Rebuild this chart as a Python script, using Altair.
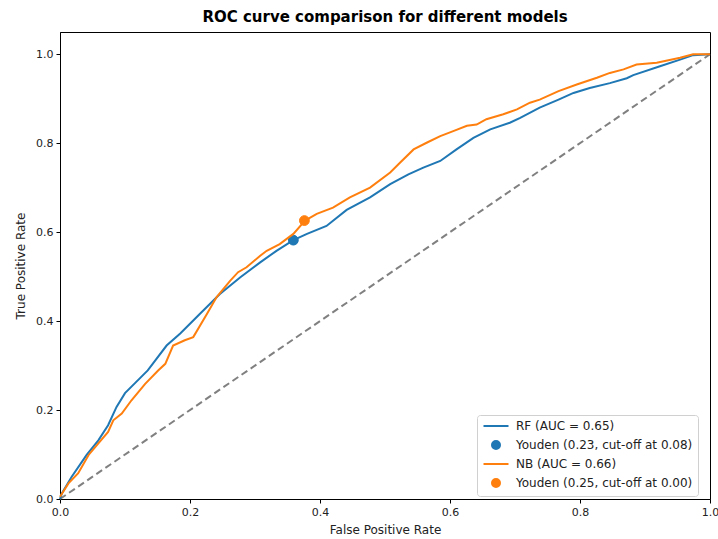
import altair as alt
import pandas as pd

# ---- data ----
rf_fpr = [0.0, 0.003, 0.018, 0.041, 0.059, 0.074, 0.087, 0.100, 0.115, 0.135, 0.164, 0.185,
          0.215, 0.246, 0.277, 0.308, 0.333, 0.359, 0.380, 0.410, 0.441, 0.477, 0.508, 0.536,
          0.559, 0.585, 0.610, 0.636, 0.662, 0.692, 0.708, 0.738, 0.767, 0.790, 0.815, 0.846,
          0.872, 0.882, 0.923, 0.954, 0.974, 1.0]
rf_tpr = [0.0, 0.013, 0.050, 0.099, 0.132, 0.166, 0.207, 0.238, 0.260, 0.289, 0.345, 0.372,
          0.416, 0.461, 0.498, 0.532, 0.558, 0.582, 0.596, 0.614, 0.650, 0.678, 0.708, 0.730,
          0.745, 0.760, 0.786, 0.812, 0.831, 0.846, 0.857, 0.880, 0.898, 0.913, 0.924, 0.935,
          0.946, 0.953, 0.973, 0.988, 0.998, 1.0]

nb_fpr = [0.0, 0.013, 0.028, 0.044, 0.059, 0.074, 0.082, 0.095, 0.110, 0.131, 0.151, 0.162,
          0.174, 0.192, 0.205, 0.226, 0.241, 0.262, 0.274, 0.287, 0.308, 0.318, 0.338, 0.359,
          0.377, 0.395, 0.420, 0.446, 0.477, 0.508, 0.523, 0.544, 0.564, 0.585, 0.605, 0.626,
          0.641, 0.656, 0.682, 0.703, 0.723, 0.738, 0.767, 0.795, 0.826, 0.846, 0.867, 0.887,
          0.918, 0.954, 0.974, 1.0]
nb_tpr = [0.005, 0.035, 0.058, 0.099, 0.125, 0.151, 0.177, 0.192, 0.222, 0.259, 0.289, 0.304,
          0.345, 0.357, 0.364, 0.416, 0.454, 0.491, 0.510, 0.521, 0.547, 0.558, 0.573, 0.596,
          0.626, 0.641, 0.655, 0.678, 0.700, 0.734, 0.756, 0.786, 0.801, 0.816, 0.827, 0.839,
          0.842, 0.854, 0.865, 0.876, 0.891, 0.898, 0.917, 0.932, 0.947, 0.958, 0.966, 0.977,
          0.981, 0.992, 1.0, 1.0]

youden_fpr = [0.359, 0.376]
youden_tpr = [0.582, 0.626]

labels = ["RF (AUC = 0.65)", "Youden (0.23, cut-off at 0.08)",
          "NB (AUC = 0.66)", "Youden (0.25, cut-off at 0.00)"]
colors = ["#1f77b4", "#1f77b4", "#ff7f0e", "#ff7f0e"]
line_shape = "M-2.5,0H2.5"
circle_shape = "M-2.5,0M2.5,0M0,-0.8A0.8,0.8,0,1,1,0,0.8A0.8,0.8,0,1,1,0,-0.8Z"
shapes = [line_shape, circle_shape, line_shape, circle_shape]

ticks = [0.0, 0.2, 0.4, 0.6, 0.8, 1.0]

rf_df = pd.DataFrame({"fpr": rf_fpr, "tpr": rf_tpr, "label": labels[0]})
nb_df = pd.DataFrame({"fpr": nb_fpr, "tpr": nb_tpr, "label": labels[2]})
rf_pt = pd.DataFrame({"fpr": youden_fpr[:1], "tpr": youden_tpr[:1], "label": labels[1]})
nb_pt = pd.DataFrame({"fpr": youden_fpr[1:], "tpr": youden_tpr[1:], "label": labels[3]})
diag = pd.DataFrame({"fpr": [0.0, 1.0], "tpr": [0.0, 1.0]})

FONT = "DejaVu Sans"

x_enc = alt.X("fpr:Q", scale=alt.Scale(domain=[0, 1], nice=False, zero=False),
              axis=alt.Axis(values=ticks, format=".1f", title="False Positive Rate"))
y_enc = alt.Y("tpr:Q", scale=alt.Scale(domain=[0, 1.05], nice=False, zero=False),
              axis=alt.Axis(values=ticks, format=".1f", title="True Positive Rate"))

legend = alt.Legend(
    title=None, orient="none", legendX=417, legendY=383,
    labelFont=FONT, labelFontSize=12, labelColor="#222222",
    symbolSize=100, symbolStrokeWidth=2, symbolOffset=8, labelOffset=14,
    rowPadding=5, padding=5, fillColor="white", strokeColor="#d0d0d0",
    cornerRadius=3, labelLimit=300,
)
stroke_enc = alt.Stroke("label:N", scale=alt.Scale(domain=labels, range=colors), legend=legend)
fill_enc = alt.Fill("label:N", scale=alt.Scale(domain=labels, range=colors), legend=legend)
shape_enc = alt.Shape("label:N", scale=alt.Scale(domain=labels, range=shapes), legend=legend)

diag_layer = alt.Chart(diag).mark_line(color="#808080", strokeWidth=2, strokeDash=[7, 4]).encode(
    x=x_enc, y=y_enc)

rf_line = alt.Chart(rf_df).mark_line(strokeWidth=2).encode(x=x_enc, y=y_enc, stroke=stroke_enc)
nb_line = alt.Chart(nb_df).mark_line(strokeWidth=2).encode(x=x_enc, y=y_enc, stroke=stroke_enc)
rf_point = alt.Chart(rf_pt).mark_point(filled=True, size=150, strokeWidth=1, opacity=1).encode(
    x=x_enc, y=y_enc, fill=fill_enc, stroke=stroke_enc, shape=shape_enc)
nb_point = alt.Chart(nb_pt).mark_point(filled=True, size=150, strokeWidth=1, opacity=1).encode(
    x=x_enc, y=y_enc, fill=fill_enc, stroke=stroke_enc, shape=shape_enc)

chart = alt.layer(diag_layer, rf_line, rf_point, nb_line, nb_point).properties(
    width=650, height=467,
    title=alt.TitleParams("ROC curve comparison for different models", font=FONT,
                          fontSize=15, fontWeight="bold", anchor="middle", offset=7,
                          color="#000000"),
    autosize=alt.AutoSizeParams(type="none"),
    padding={"left": 60, "top": 32, "right": 8, "bottom": 40},
).configure_view(stroke="#000000", strokeWidth=1).configure_axis(
    grid=False, domainColor="#000000", domainWidth=1, tickColor="#000000", tickSize=4,
    labelFont=FONT, labelFontSize=11, labelColor="#222222", labelPadding=3,
    labelFlush=False, labelOverlap=False,
    titleFont=FONT, titleFontSize=12, titleFontWeight="normal", titleColor="#222222",
).configure_axisX(titlePadding=7).configure_axisY(titlePadding=8)

chart.save("out.html", embed_options={"renderer": "svg", "actions": False})
